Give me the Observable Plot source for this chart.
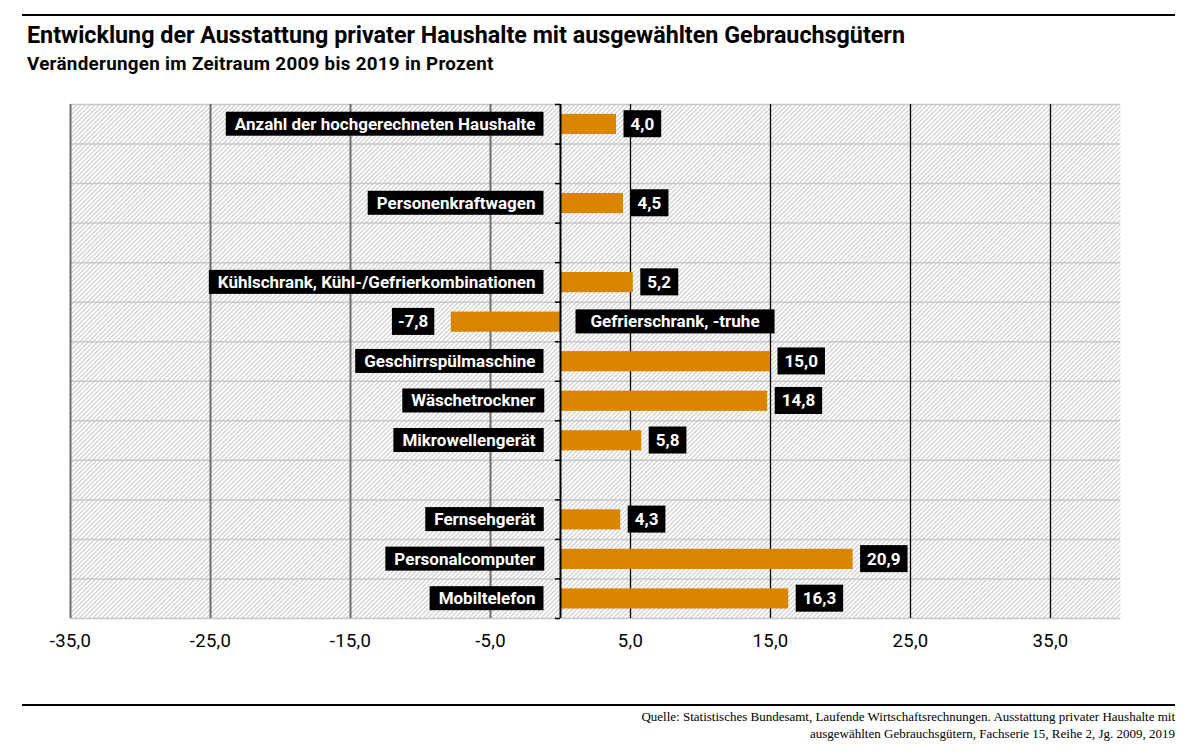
<!DOCTYPE html>
<html>
<head>
<meta charset="utf-8">
<script src="https://cdn.jsdelivr.net/npm/d3@7"></script>
<script src="https://cdn.jsdelivr.net/npm/@observablehq/plot@0.6"></script>
<style>
  html, body { margin: 0; padding: 0; background: #fff; }
  #page { position: relative; width: 1203px; height: 754px; overflow: hidden; font-family: Roboto, "Noto Sans", sans-serif; }
  .rule { position: absolute; left: 22px; width: 1153px; height: 2px; background: #000; }
  #title { position: absolute; left: 27px; top: 21px; font-size: 23.3px; font-weight: 700; line-height: 28px; color: #000; white-space: nowrap; }
  #subtitle { position: absolute; left: 27px; top: 53px; font-size: 18.8px; letter-spacing: 0.3px; font-weight: 700; line-height: 22px; color: #000; white-space: nowrap; }
  #chart { position: absolute; left: 0; top: 80px; }
  #caption { position: absolute; right: 28px; top: 708px; font-family: "Liberation Serif", "DejaVu Serif", serif; font-size: 13px; line-height: 17px; text-align: right; color: #000; }
</style>
</head>
<body>
<div id="page">
  <div class="rule" style="top:14px"></div>
  <div id="title">Entwicklung der Ausstattung privater Haushalte mit ausgewählten Gebrauchsgütern</div>
  <div id="subtitle">Veränderungen im Zeitraum 2009 bis 2019 in Prozent</div>
  <div id="chart"></div>
  <div class="rule" style="top:704px"></div>
  <div id="caption">Quelle: Statistisches Bundesamt, Laufende Wirtschaftsrechnungen. Ausstattung privater Haushalte mit<br>ausgewählten Gebrauchsgütern, Fachserie 15, Reihe 2, Jg. 2009, 2019</div>
</div>
<script>
// ---- data ----
const categories = [
  "Anzahl der hochgerechneten Haushalte",
  "",
  "Personenkraftwagen",
  "",
  "Kühlschrank, Kühl-/Gefrierkombinationen",
  "Gefrierschrank, -truhe",
  "Geschirrspülmaschine",
  "Wäschetrockner",
  "Mikrowellengerät",
  "",
  "Fernsehgerät",
  "Personalcomputer",
  "Mobiltelefon"
];
const values = [4.0, null, 4.5, null, 5.2, -7.8, 15.0, 14.8, 5.8, null, 4.3, 20.9, 16.3];
const xTicks = [-35, -25, -15, -5, 5, 15, 25, 35];
const xDomain = [-35, 40];

const fmt = v => v.toFixed(1).replace(".", ",");
const rows = categories.map((c, i) => ({i, category: c, value: values[i]})).filter(d => d.value != null);
const boundaries = d3.range(0, categories.length + 1);
const posRows = rows.filter(d => d.value >= 0);
const negRows = rows.filter(d => d.value < 0);

const defs = () => {
  const ns = "http://www.w3.org/2000/svg";
  const d = document.createElementNS(ns, "defs");
  d.innerHTML = `<pattern id="hatch" width="3.2" height="3.2" patternUnits="userSpaceOnUse" patternTransform="rotate(45)">
      <rect width="3.2" height="3.2" fill="#ffffff"></rect>
      <line x1="0.6" y1="0" x2="0.6" y2="3.2" stroke="#cdcdcd" stroke-width="1.2"></line>
    </pattern>`;
  return d;
};

const chart = Plot.plot({
  width: 1203,
  height: 600,
  marginLeft: 70,
  marginRight: 83,
  marginTop: 24,
  marginBottom: 62,
  style: {fontFamily: "Roboto, 'Noto Sans', sans-serif", background: "transparent", overflow: "visible"},
  x: {domain: xDomain, ticks: xTicks, tickFormat: fmt, tickSize: 0, tickPadding: 15, label: null},
  y: {domain: [0, categories.length], reverse: true, axis: null},
  marks: [
    defs,
    Plot.frame({fill: "url(#hatch)", stroke: null}),
    Plot.ruleY(boundaries, {stroke: "#c8c8c8", strokeWidth: 1.5}),
    Plot.ruleX(xTicks.filter(t => t < 0), {stroke: "#6e6e6e", strokeWidth: 2}),
    Plot.ruleX(xTicks.filter(t => t > 0), {stroke: "#000", strokeWidth: 1.3}),
    Plot.rect(rows, {x1: 0, x2: "value", y1: d => d.i + 0.25, y2: d => d.i + 0.76, fill: "#d98500"}),
    Plot.ruleX([0], {stroke: "#000", strokeWidth: 2}),
    Plot.ruleY(boundaries, {x1: 0, x2: -0.36, stroke: "#000", strokeWidth: 1.5}),
    // category labels
    Plot.text(posRows, {x: 0, y: d => d.i + 0.5, text: "category", textAnchor: "end", dx: -25, fill: "#fff", fontWeight: 700, fontSize: 17}),
    Plot.text(negRows, {x: 0, y: d => d.i + 0.5, text: "category", textAnchor: "start", dx: 30, fill: "#fff", fontWeight: 700, fontSize: 17}),
    // value labels
    Plot.text(posRows, {x: "value", y: d => d.i + 0.5, text: d => fmt(d.value), textAnchor: "start", dx: 14, fill: "#fff", fontWeight: 700, fontSize: 17}),
    Plot.text(negRows, {x: "value", y: d => d.i + 0.5, text: d => fmt(d.value), textAnchor: "end", dx: -23, fill: "#fff", fontWeight: 700, fontSize: 17})
  ]
});

chart.querySelectorAll('[aria-label="x-axis tick label"]').forEach(el => {
  el.setAttribute("font-size", "18.5");
  el.setAttribute("letter-spacing", "0.3");
  el.setAttribute("fill", "#000");
});

document.getElementById("chart").append(chart);

// black boxes behind labels, matched by their text
const ns = "http://www.w3.org/2000/svg";
const catPos = new Set(posRows.map(d => d.category));
const catNeg = new Set(negRows.map(d => d.category));
const valPos = new Set(posRows.map(d => fmt(d.value)));
const valNeg = new Set(negRows.map(d => fmt(d.value)));
Array.from(chart.querySelectorAll("text")).forEach(t => {
  if (t.closest('[aria-label="x-axis tick label"]')) return;
  const s = t.textContent;
  let p;
  if (catPos.has(s)) p = [9, 8, 24];
  else if (catNeg.has(s)) p = [15, 15, 24];
  else if (valPos.has(s)) p = [7, 7, 27];
  else if (valNeg.has(s)) p = [6, 6, 27];
  else return;
  const b = t.getBBox();
  const cy = b.y + b.height / 2;
  const r = document.createElementNS(ns, "rect");
  r.setAttribute("x", b.x - p[0]);
  r.setAttribute("y", cy - p[2] / 2);
  r.setAttribute("width", b.width + p[0] + p[1]);
  r.setAttribute("height", p[2]);
  r.setAttribute("fill", "#000");
  const tr = t.getAttribute("transform");
  if (tr) r.setAttribute("transform", tr);
  if (t.hasAttribute("x")) r.setAttribute("x", b.x - p[0]);
  t.parentNode.insertBefore(r, t);
});
</script>
</body>
</html>
